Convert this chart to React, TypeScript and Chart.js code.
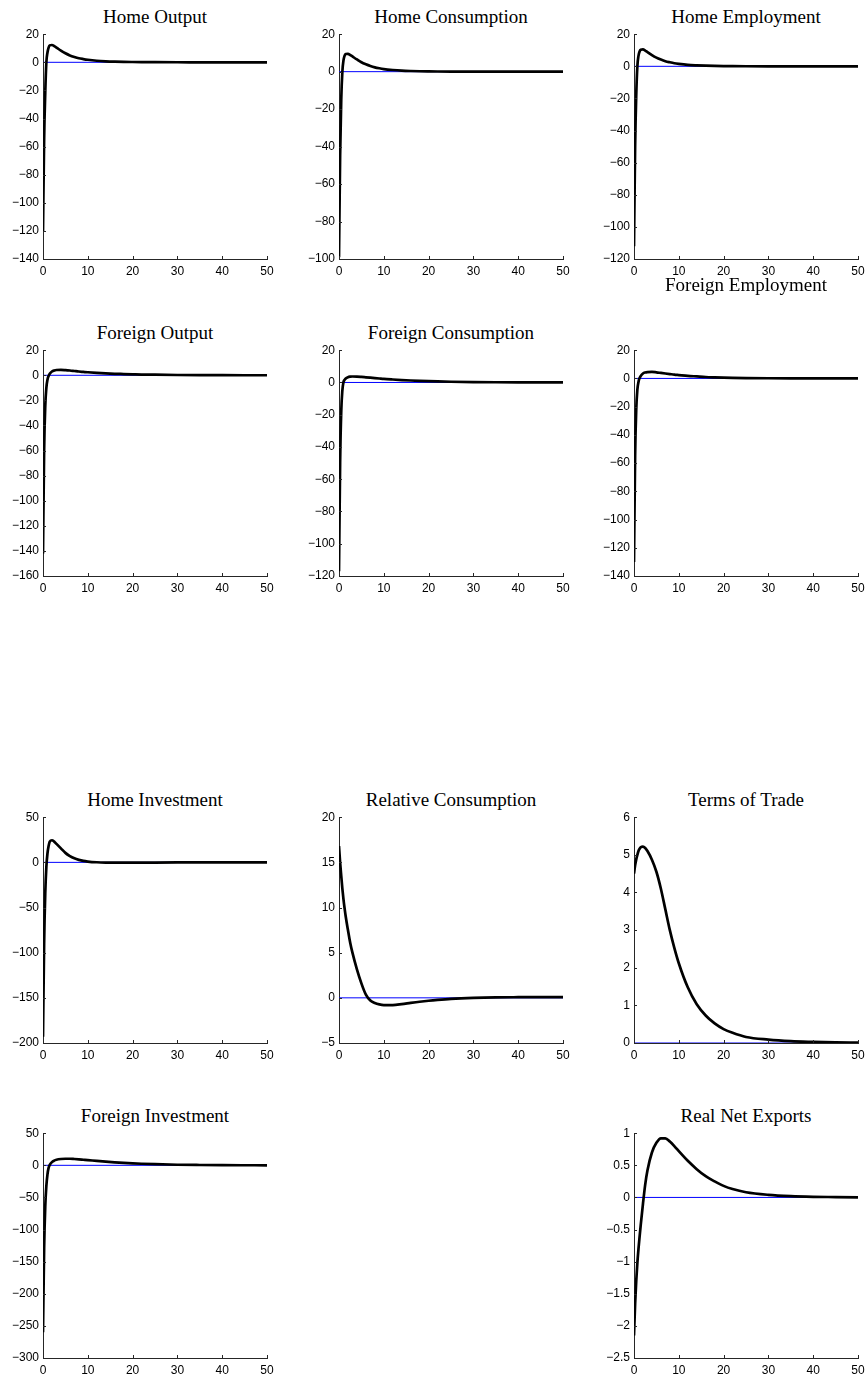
import React, { useEffect, useRef } from "react";
import { Chart, registerables } from "chart.js";

Chart.register(...registerables);

// ---- data ----
const periods = [0, 0.25, 0.5, 0.75, 1, 1.25, 1.5, 2, 2.5, 3, 4, 5, 6, 7, 8, 9, 10, 12, 14, 16, 18, 20, 22, 25, 30, 35, 40, 45, 50];

const homeOutput = [-120, -55, -22, 0, 7, 10.5, 12, 12.3, 11.5, 10.5, 8.3, 6.4, 4.9, 3.8, 2.9, 2.3, 1.8, 1.1, 0.7, 0.45, 0.3, 0.2, 0.12, 0.06, 0.02, 0.01, 0, 0, 0];
const homeConsumption = [-99, -45, -15, 0, 6, 8.5, 9.4, 9.5, 8.9, 8.1, 6.5, 5.0, 3.9, 3.0, 2.3, 1.8, 1.4, 0.9, 0.55, 0.35, 0.22, 0.14, 0.08, 0.04, 0.01, 0, 0, 0, 0];
const homeEmployment = [-112, -50, -18, 0, 6.5, 9.2, 10.3, 10.5, 9.8, 8.9, 7.0, 5.4, 4.2, 3.2, 2.5, 1.9, 1.5, 0.9, 0.6, 0.4, 0.25, 0.15, 0.1, 0.05, 0.02, 0, 0, 0, 0];
const foreignOutput = [-142, -60, -25, -10, -3.5, -0.5, 1.2, 3.0, 3.8, 4.2, 4.3, 4.1, 3.8, 3.4, 3.0, 2.7, 2.4, 1.9, 1.5, 1.2, 1.0, 0.8, 0.6, 0.45, 0.25, 0.13, 0.07, 0.03, 0.02];
const foreignConsumption = [-117, -50, -18, -5, 0.2, 1.6, 2.5, 3.3, 3.6, 3.7, 3.65, 3.45, 3.2, 2.95, 2.7, 2.45, 2.2, 1.82, 1.48, 1.2, 0.97, 0.78, 0.62, 0.43, 0.24, 0.13, 0.07, 0.04, 0.02];
const foreignEmployment = [-130, -55, -22, -8, -2.5, 0.3, 1.8, 3.5, 4.2, 4.5, 4.6, 4.3, 3.9, 3.5, 3.1, 2.7, 2.4, 1.8, 1.4, 1.0, 0.75, 0.55, 0.4, 0.25, 0.12, 0.05, 0.02, 0.01, 0];
const homeInvestment = [-193, -90, -35, -5, 10, 18, 23, 24.5, 23, 20.5, 15.5, 10.5, 7, 4.5, 2.8, 1.6, 0.9, 0.1, -0.3, -0.4, -0.4, -0.35, -0.3, -0.2, -0.1, -0.05, 0, 0, 0];
const relativeConsumption = [16.8, 15.0, 13.5, 12.1, 10.9, 9.9, 9.0, 7.5, 6.1, 5.0, 3.15, 1.6, 0.35, -0.3, -0.58, -0.73, -0.8, -0.8, -0.7, -0.56, -0.43, -0.32, -0.23, -0.12, -0.01, 0.05, 0.07, 0.08, 0.08];
const termsOfTrade = [4.5, 4.72, 4.88, 5.0, 5.1, 5.16, 5.2, 5.22, 5.18, 5.1, 4.87, 4.55, 4.1, 3.55, 3.0, 2.53, 2.12, 1.48, 1.03, 0.73, 0.52, 0.37, 0.27, 0.16, 0.09, 0.05, 0.03, 0.015, 0.01];
const foreignInvestment = [-260, -130, -65, -32, -14, -4, 0.5, 5, 7.3, 8.6, 9.8, 10.2, 10.2, 9.8, 9.3, 8.7, 8.1, 6.8, 5.6, 4.6, 3.7, 3.0, 2.4, 1.7, 0.9, 0.5, 0.25, 0.12, 0.06];
const realNetExports = [-2.15, -1.66, -1.3, -1.02, -0.8, -0.61, -0.43, -0.1, 0.2, 0.42, 0.7, 0.85, 0.92, 0.92, 0.87, 0.8, 0.72, 0.57, 0.44, 0.33, 0.25, 0.18, 0.13, 0.08, 0.04, 0.02, 0.01, 0.005, 0];

const zeroLine = [0, 0];
const zeroLinePeriods = [0, 50];

// y-axis ranges [min, max, step]
const rangeHomeOutput = [-140, 20, 20];
const rangeHomeConsumption = [-100, 20, 20];
const rangeHomeEmployment = [-120, 20, 20];
const rangeForeignOutput = [-160, 20, 20];
const rangeForeignConsumption = [-120, 20, 20];
const rangeForeignEmployment = [-140, 20, 20];
const rangeHomeInvestment = [-200, 50, 50];
const rangeRelativeConsumption = [-5, 20, 5];
const rangeTermsOfTrade = [0, 6, 1];
const rangeForeignInvestment = [-300, 50, 50];
const rangeRealNetExports = [-2.5, 1, 0.5];
const xRange = [0, 50, 10];

// ---- layout ----
const COLS = [43, 339, 634];
const AX_W = 224;
const ROWS = [
  { top: 33, h: 226 },
  { top: 349, h: 227 },
  { top: 816, h: 227 },
  { top: 1132, h: 226 },
];

type Panel = {
  title: string;
  values: number[];
  range: number[];
  col: number;
  row: number;
  titleBaseline?: number;
};

const panels: Panel[] = [
  { title: "Home Output", values: homeOutput, range: rangeHomeOutput, col: 0, row: 0 },
  { title: "Home Consumption", values: homeConsumption, range: rangeHomeConsumption, col: 1, row: 0 },
  { title: "Home Employment", values: homeEmployment, range: rangeHomeEmployment, col: 2, row: 0 },
  { title: "Foreign Output", values: foreignOutput, range: rangeForeignOutput, col: 0, row: 1 },
  { title: "Foreign Consumption", values: foreignConsumption, range: rangeForeignConsumption, col: 1, row: 1 },
  { title: "Foreign Employment", values: foreignEmployment, range: rangeForeignEmployment, col: 2, row: 1, titleBaseline: 291 },
  { title: "Home Investment", values: homeInvestment, range: rangeHomeInvestment, col: 0, row: 2 },
  { title: "Relative Consumption", values: relativeConsumption, range: rangeRelativeConsumption, col: 1, row: 2 },
  { title: "Terms of Trade", values: termsOfTrade, range: rangeTermsOfTrade, col: 2, row: 2 },
  { title: "Foreign Investment", values: foreignInvestment, range: rangeForeignInvestment, col: 0, row: 3 },
  { title: "Real Net Exports", values: realNetExports, range: rangeRealNetExports, col: 2, row: 3 },
];

const AXIS_COLOR = "#262626";
const PAD_LEFT = 40;
const PAD_TOP = 10;
const PAD_RIGHT = 12;
const PAD_BOTTOM = 22;

const inwardTicks = {
  id: "inwardTicks",
  afterDatasetsDraw(chart: any) {
    const { ctx, chartArea, scales } = chart;
    ctx.save();
    ctx.strokeStyle = AXIS_COLOR;
    ctx.lineWidth = 1;
    ctx.beginPath();
    scales.x.ticks.forEach((t: any) => {
      const px = Math.round(scales.x.getPixelForValue(t.value)) + 0.5;
      ctx.moveTo(px, chartArea.bottom);
      ctx.lineTo(px, chartArea.bottom - 3);
    });
    scales.y.ticks.forEach((t: any) => {
      const py = Math.round(scales.y.getPixelForValue(t.value)) + 0.5;
      ctx.moveTo(chartArea.left, py);
      ctx.lineTo(chartArea.left + 3, py);
    });
    ctx.stroke();
    ctx.restore();
  },
};

const fmt = (v: number) => {
  const r = Math.round(v * 1000) / 1000;
  return String(r).replace("-", "\u2212");
};

function SubPlot({ p }: { p: Panel }) {
  const ref = useRef<HTMLCanvasElement>(null);
  const left = COLS[p.col];
  const { top, h } = ROWS[p.row];
  const cw = AX_W + PAD_LEFT + PAD_RIGHT;
  const ch = h + PAD_TOP + PAD_BOTTOM;

  useEffect(() => {
    if (!ref.current) return;
    const chart = new Chart(ref.current, {
      type: "line",
      data: {
        datasets: [
          {
            data: zeroLinePeriods.map((x, i) => ({ x, y: zeroLine[i] })),
            borderColor: "#0000ff",
            borderWidth: 1,
            pointRadius: 0,
            order: 2,
          },
          {
            data: periods.map((x, i) => ({ x, y: p.values[i] })),
            borderColor: "#000000",
            borderWidth: 2.7,
            pointRadius: 0,
            cubicInterpolationMode: "monotone",
            order: 1,
          },
        ],
      },
      options: {
        animation: false,
        responsive: false,
        events: [],
        layout: { padding: { top: PAD_TOP, right: PAD_RIGHT, left: 0, bottom: 0 } },
        plugins: { legend: { display: false }, tooltip: { enabled: false }, title: { display: false } },
        scales: {
          x: {
            type: "linear",
            min: xRange[0],
            max: xRange[1],
            grid: { display: false, drawTicks: false },
            border: { display: true, color: AXIS_COLOR, width: 1 },
            ticks: {
              stepSize: xRange[2],
              padding: 5,
              color: "#000",
              font: { family: "'Liberation Sans', Arial, sans-serif", size: 12 },
              maxRotation: 0,
              callback: (v: any) => fmt(Number(v)),
            },
            afterFit: (s: any) => {
              s.height = PAD_BOTTOM;
            },
          },
          y: {
            type: "linear",
            min: p.range[0],
            max: p.range[1],
            grid: { display: false, drawTicks: false },
            border: { display: true, color: AXIS_COLOR, width: 1 },
            ticks: {
              stepSize: p.range[2],
              padding: 4,
              color: "#000",
              font: { family: "'Liberation Sans', Arial, sans-serif", size: 12 },
              callback: (v: any) => fmt(Number(v)),
            },
            afterFit: (s: any) => {
              s.width = PAD_LEFT;
            },
          },
        },
      },
      plugins: [inwardTicks],
    } as any);
    return () => chart.destroy();
  }, []);

  const baseline = p.titleBaseline ?? top - 10.5;

  return (
    <>
      <div
        style={{
          position: "absolute",
          left,
          width: AX_W,
          top: baseline - 15.9,
          textAlign: "center",
          fontFamily: "'Liberation Serif', 'Times New Roman', serif",
          fontSize: 19,
          lineHeight: "19px",
          whiteSpace: "nowrap",
          color: "#000",
        }}
      >
        {p.title}
      </div>
      <canvas
        ref={ref}
        width={cw}
        height={ch}
        style={{ position: "absolute", left: left - PAD_LEFT, top: top - PAD_TOP, width: cw, height: ch }}
      />
    </>
  );
}

export default function App() {
  return (
    <div style={{ position: "absolute", left: 0, top: 0, width: 867, height: 1384, background: "#fff", overflow: "hidden" }}>
      {panels.map((p) => (
        <SubPlot key={p.title} p={p} />
      ))}
    </div>
  );
}
